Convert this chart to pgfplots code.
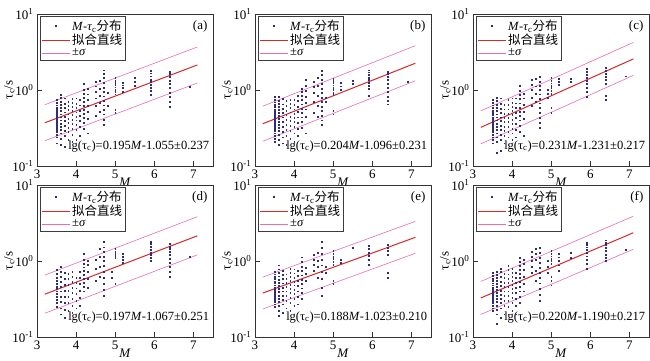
\documentclass[border=0pt]{standalone}
\usepackage{fontspec}
\setmainfont{Liberation Serif}
\newfontfamily\cjk{Noto Sans CJK SC}
\usepackage{pgfplots}
\pgfplotsset{compat=1.18}
\usepgfplotslibrary{groupplots}
\definecolor{dotc}{RGB}{45,45,120}
\definecolor{fitc}{RGB}{215,40,40}
\definecolor{sigc}{RGB}{232,110,175}
\definecolor{boxc}{RGB}{60,60,60}
\newcommand\legs{\legend{\textit{M}-\textit{τ}\textsubscript{c}{\cjk 分布},{\cjk 拟合直线},±\textit{σ}}}
\newcommand\fs{\fontsize{13}{14}\selectfont}
\pgfplotsset{
  every axis/.append style={
    scale only axis, width=176pt, height=152pt,
    xmin=3, xmax=7.5, ymode=log, ymin=0.1, ymax=10,
    xtick={3,4,5,6,7}, ytick={0.1,1,10},
    yticklabels={10\textsuperscript{-1},10\textsuperscript{0},10\textsuperscript{1}},
    xminorticks=false, yminorticks=false,
    tick align=inside, tick pos=left, major tick length=5pt,
    axis line style={line width=0.8pt, black!80},
    tick style={line width=0.7pt, black!80},
    /pgf/number format/assume math mode=true,
    tick label style={font=\fs},
    label style={font=\fs},
    xlabel={\textit{M}}, ylabel={τ\textsubscript{c}/s},
    xlabel style={yshift=7pt},
    ylabel style={yshift=-9pt},
    legend cell align=left,
    legend image code/.code={\draw[mark repeat=2,mark phase=2] plot coordinates {(0pt,0pt) (14pt,0pt) (28pt,0pt)};},
  },
  every axis legend/.append style={at={(0.015,0.985)}, anchor=north west, draw=boxc, line width=1.1pt, fill=white,
      font=\fontsize{12.5}{13}\selectfont, inner sep=1pt, row sep=-1.5pt,
      /tikz/every even column/.append style={column sep=2pt}},
  dots/.style={only marks, mark=square*, mark size=0.4pt, color=dotc},
  fit/.style={fitc, line width=1pt, no marks},
  sig/.style={sigc, line width=0.6pt, no marks},
}
\newcommand\eqn[1]{\node[anchor=south east, font=\fontsize{12.5}{13}\selectfont, inner sep=1pt] at (rel axis cs:0.985,0.085) {#1};}
\newcommand\plab[1]{\node[anchor=north east, font=\fs, inner sep=1pt] at (rel axis cs:0.975,0.965) {#1};}
\begin{document}
\begin{tikzpicture}
\begin{groupplot}[group style={group size=3 by 2, horizontal sep=42pt, vertical sep=19pt}]
% (a)
\nextgroupplot
\addplot[dots] coordinates {
(3.5,0.20)(3.5,0.24)(3.5,0.26)(3.5,0.28)(3.5,0.30)(3.5,0.32)(3.5,0.34)(3.5,0.36)(3.5,0.38)(3.5,0.40)(3.5,0.42)(3.5,0.44)(3.5,0.46)(3.5,0.49)(3.5,0.52)(3.5,0.55)(3.5,0.59)(3.5,0.63)(3.5,0.68)(3.5,0.74)
(3.6,0.19)(3.6,0.23)(3.6,0.27)(3.6,0.30)(3.6,0.33)(3.6,0.36)(3.6,0.40)(3.6,0.44)(3.6,0.48)(3.6,0.53)(3.6,0.58)(3.6,0.64)(3.6,0.71)(3.6,0.80)(3.6,0.87)
(3.7,0.18)(3.7,0.25)(3.7,0.29)(3.7,0.34)(3.7,0.39)(3.7,0.45)(3.7,0.51)(3.7,0.58)(3.7,0.66)(3.7,0.78)
(3.8,0.22)(3.8,0.28)(3.8,0.32)(3.8,0.37)(3.8,0.42)(3.8,0.48)(3.8,0.55)(3.8,0.62)(3.8,0.70)
(3.9,0.21)(3.9,0.26)(3.9,0.31)(3.9,0.36)(3.9,0.41)(3.9,0.47)(3.9,0.53)(3.9,0.60)(3.9,0.68)(3.9,0.77)
(4.0,0.22)(4.0,0.30)(4.0,0.35)(4.0,0.40)(4.0,0.45)(4.0,0.51)(4.0,0.58)(4.0,0.66)(4.0,0.78)
(4.1,0.25)(4.1,0.33)(4.1,0.39)(4.1,0.46)(4.1,0.54)(4.1,0.63)(4.1,0.74)
(4.2,0.31)(4.2,0.37)(4.2,0.43)(4.2,0.49)(4.2,0.55)(4.2,0.62)(4.2,0.70)(4.2,0.79)(4.2,0.90)(4.2,1.02)(4.2,1.20)
(4.3,0.27)(4.3,0.42)(4.3,0.52)(4.3,0.62)(4.3,0.74)(4.3,0.88)(4.3,1.05)
(4.5,0.46)(4.5,0.62)(4.5,0.78)(4.5,0.95)(4.5,1.12)(4.5,1.28)
(4.6,0.52)(4.6,0.68)(4.6,0.85)(4.6,1.05)(4.6,1.32)
(4.7,0.35)(4.7,0.41)(4.7,0.48)(4.7,0.55)(4.7,0.63)(4.7,0.72)(4.7,0.83)(4.7,0.95)(4.7,1.08)(4.7,1.24)(4.7,1.45)(4.7,1.62)(4.7,1.82)
(4.8,0.62)(4.8,0.92)
(5.0,0.50)(5.0,0.55)(5.0,0.88)(5.0,0.95)(5.0,1.02)(5.0,1.09)(5.0,1.17)(5.0,1.25)(5.0,1.34)(5.0,1.45)
(5.2,0.96)(5.2,1.06)(5.2,1.16)(5.2,1.26)
(5.5,1.15)(5.5,1.30)(5.5,1.45)
(5.9,0.87)(5.9,0.98)(5.9,1.08)(5.9,1.18)(5.9,1.28)(5.9,1.38)(5.9,1.52)(5.9,1.66)(5.9,1.80)
(6.4,0.60)(6.4,0.70)(6.4,0.81)(6.4,0.93)(6.4,1.06)(6.4,1.20)(6.4,1.34)(6.4,1.48)(6.4,1.62)(6.4,1.75)
(6.9,1.10)};
\addplot[fit] coordinates {(3.2,0.3707)(7.1,2.135)};
\addplot[sig] coordinates {(3.2,0.6397)(7.1,3.686)};
\addplot[sig, forget plot] coordinates {(3.2,0.2148)(7.1,1.237)};
\legs
\plab{(a)}
\eqn{lg(τ\textsubscript{c})=0.195\textit{M}-1.055±0.237}
% (b)
\nextgroupplot
\addplot[dots] coordinates {
(3.5,0.21)(3.5,0.23)(3.5,0.25)(3.5,0.27)(3.5,0.29)(3.5,0.31)(3.5,0.33)(3.5,0.35)(3.5,0.37)(3.5,0.39)(3.5,0.41)(3.5,0.43)(3.5,0.45)(3.5,0.47)(3.5,0.50)(3.5,0.53)(3.5,0.56)(3.5,0.60)(3.5,0.64)(3.5,0.69)(3.5,0.75)(3.5,0.82)
(3.6,0.19)(3.6,0.22)(3.6,0.26)(3.6,0.29)(3.6,0.32)(3.6,0.35)(3.6,0.38)(3.6,0.42)(3.6,0.46)(3.6,0.50)(3.6,0.55)(3.6,0.60)(3.6,0.66)(3.6,0.73)(3.6,0.82)
(3.7,0.20)(3.7,0.24)(3.7,0.28)(3.7,0.33)(3.7,0.38)(3.7,0.44)(3.7,0.50)(3.7,0.57)(3.7,0.65)(3.7,0.76)
(3.8,0.19)(3.8,0.25)(3.8,0.30)(3.8,0.35)(3.8,0.41)(3.8,0.47)(3.8,0.54)(3.8,0.62)(3.8,0.72)
(3.9,0.23)(3.9,0.29)(3.9,0.34)(3.9,0.39)(3.9,0.45)(3.9,0.51)(3.9,0.58)(3.9,0.66)(3.9,0.75)
(4.0,0.21)(4.0,0.27)(4.0,0.33)(4.0,0.38)(4.0,0.43)(4.0,0.49)(4.0,0.56)(4.0,0.64)(4.0,0.74)
(4.1,0.25)(4.1,0.31)(4.1,0.37)(4.1,0.44)(4.1,0.52)(4.1,0.61)(4.1,0.72)(4.1,0.84)
(4.2,0.32)(4.2,0.38)(4.2,0.44)(4.2,0.50)(4.2,0.57)(4.2,0.65)(4.2,0.74)(4.2,0.84)(4.2,0.95)(4.2,1.05)
(4.3,0.27)(4.3,0.45)(4.3,0.56)(4.3,0.68)(4.3,0.82)(4.3,0.98)(4.3,1.15)(4.3,1.38)
(4.5,0.50)(4.5,0.70)(4.5,0.92)(4.5,1.10)(4.5,1.30)
(4.6,0.45)(4.6,0.62)(4.6,0.85)(4.6,1.15)(4.6,1.45)
(4.7,0.35)(4.7,0.40)(4.7,0.46)(4.7,0.53)(4.7,0.61)(4.7,0.70)(4.7,0.80)(4.7,0.92)(4.7,1.05)(4.7,1.20)(4.7,1.38)(4.7,1.58)(4.7,1.80)
(4.8,0.70)(4.8,0.80)
(5.0,0.48)(5.0,0.53)(5.0,0.86)(5.0,0.93)(5.0,1.00)(5.0,1.08)(5.0,1.16)(5.0,1.24)(5.0,1.32)(5.0,1.42)
(5.2,1.00)(5.2,1.12)(5.2,1.25)
(5.5,1.20)(5.5,1.32)
(5.9,0.85)(5.9,1.05)(5.9,1.15)(5.9,1.25)(5.9,1.35)(5.9,1.45)(5.9,1.58)(5.9,1.72)(5.9,1.82)
(6.4,0.65)(6.4,0.72)(6.4,0.82)(6.4,0.95)(6.4,1.08)(6.4,1.22)(6.4,1.36)(6.4,1.50)(6.4,1.62)(6.4,1.74)
(6.9,1.30)};
\addplot[fit] coordinates {(3.2,0.3604)(7.1,2.251)};
\addplot[sig] coordinates {(3.2,0.6135)(7.1,3.832)};
\addplot[sig, forget plot] coordinates {(3.2,0.2117)(7.1,1.3224)};
\legs
\plab{(b)}
\eqn{lg(τ\textsubscript{c})=0.204\textit{M}-1.096±0.231}
% (c)
\nextgroupplot
\addplot[dots] coordinates {
(3.5,0.20)(3.5,0.22)(3.5,0.24)(3.5,0.26)(3.5,0.28)(3.5,0.30)(3.5,0.32)(3.5,0.34)(3.5,0.36)(3.5,0.38)(3.5,0.40)(3.5,0.42)(3.5,0.44)(3.5,0.47)(3.5,0.50)(3.5,0.54)(3.5,0.58)(3.5,0.63)(3.5,0.68)(3.5,0.74)
(3.6,0.15)(3.6,0.21)(3.6,0.24)(3.6,0.27)(3.6,0.30)(3.6,0.33)(3.6,0.36)(3.6,0.40)(3.6,0.44)(3.6,0.48)(3.6,0.53)(3.6,0.58)(3.6,0.64)(3.6,0.72)(3.6,0.80)
(3.7,0.16)(3.7,0.22)(3.7,0.26)(3.7,0.30)(3.7,0.34)(3.7,0.39)(3.7,0.44)(3.7,0.50)(3.7,0.57)(3.7,0.66)(3.7,0.78)
(3.8,0.20)(3.8,0.25)(3.8,0.29)(3.8,0.33)(3.8,0.38)(3.8,0.43)(3.8,0.49)(3.8,0.56)(3.8,0.64)
(3.9,0.19)(3.9,0.24)(3.9,0.28)(3.9,0.33)(3.9,0.38)(3.9,0.43)(3.9,0.49)(3.9,0.56)(3.9,0.64)(3.9,0.74)
(4.0,0.22)(4.0,0.27)(4.0,0.31)(4.0,0.36)(4.0,0.41)(4.0,0.47)(4.0,0.53)(4.0,0.60)(4.0,0.68)(4.0,0.78)
(4.1,0.24)(4.1,0.30)(4.1,0.36)(4.1,0.43)(4.1,0.50)(4.1,0.58)(4.1,0.67)(4.1,0.78)
(4.2,0.28)(4.2,0.34)(4.2,0.40)(4.2,0.46)(4.2,0.52)(4.2,0.59)(4.2,0.67)(4.2,0.76)(4.2,0.86)(4.2,0.98)(4.2,1.15)
(4.3,0.25)(4.3,0.42)(4.3,0.52)(4.3,0.64)(4.3,0.78)(4.3,0.90)
(4.5,0.62)(4.5,0.80)(4.5,1.00)(4.5,1.18)(4.5,1.35)
(4.6,0.70)(4.6,0.90)(4.6,1.12)(4.6,1.40)
(4.7,0.32)(4.7,0.37)(4.7,0.43)(4.7,0.50)(4.7,0.58)(4.7,0.67)(4.7,0.77)(4.7,0.88)(4.7,1.00)(4.7,1.14)(4.7,1.30)(4.7,1.50)
(4.9,0.80)(4.9,0.90)(4.9,1.00)
(5.0,0.50)(5.0,0.58)(5.0,0.90)(5.0,0.98)(5.0,1.06)(5.0,1.14)(5.0,1.23)(5.0,1.33)(5.0,1.44)
(5.2,1.18)(5.2,1.30)(5.2,1.42)
(5.5,1.30)(5.5,1.42)
(5.9,0.82)(5.9,0.95)(5.9,1.08)(5.9,1.20)(5.9,1.32)(5.9,1.45)(5.9,1.60)(5.9,1.75)(5.9,1.90)
(6.4,0.75)(6.4,0.85)(6.4,1.20)(6.4,1.35)(6.4,1.50)(6.4,1.65)(6.4,1.80)(6.4,1.95)
(6.9,1.52)};
\addplot[fit] coordinates {(3.2,0.3223)(7.1,2.566)};
\addplot[sig] coordinates {(3.2,0.5312)(7.1,4.228)};
\addplot[sig, forget plot] coordinates {(3.2,0.1955)(7.1,1.5562)};
\legs
\plab{(c)}
\eqn{lg(τ\textsubscript{c})=0.231\textit{M}-1.231±0.217}
% (d)
\nextgroupplot
\addplot[dots] coordinates {
(3.5,0.25)(3.5,0.28)(3.5,0.31)(3.5,0.34)(3.5,0.37)(3.5,0.40)(3.5,0.43)(3.5,0.46)(3.5,0.50)(3.5,0.55)(3.5,0.61)(3.5,0.68)(3.5,0.76)
(3.6,0.20)(3.6,0.24)(3.6,0.29)(3.6,0.34)(3.6,0.40)(3.6,0.46)(3.6,0.53)(3.6,0.62)(3.6,0.72)(3.6,0.85)
(3.7,0.18)(3.7,0.23)(3.7,0.28)(3.7,0.34)(3.7,0.41)(3.7,0.49)(3.7,0.58)(3.7,0.70)
(3.8,0.22)(3.8,0.28)(3.8,0.34)(3.8,0.41)(3.8,0.49)(3.8,0.58)(3.8,0.68)
(3.9,0.21)(3.9,0.26)(3.9,0.32)(3.9,0.38)(3.9,0.45)(3.9,0.53)(3.9,0.62)(3.9,0.73)
(4.0,0.24)(4.0,0.30)(4.0,0.37)(4.0,0.44)(4.0,0.52)(4.0,0.61)
(4.1,0.26)(4.1,0.33)(4.1,0.41)(4.1,0.50)(4.1,0.60)(4.1,0.72)
(4.2,0.40)(4.2,0.46)(4.2,0.52)(4.2,0.59)(4.2,0.66)(4.2,0.74)(4.2,0.83)(4.2,0.93)(4.2,1.05)(4.2,1.25)
(4.3,0.45)(4.3,0.58)(4.3,0.72)(4.3,0.90)(4.3,1.02)
(4.5,0.55)(4.5,0.80)(4.5,1.05)
(4.6,0.62)(4.6,0.85)(4.6,1.15)(4.6,1.45)
(4.7,0.35)(4.7,0.42)(4.7,0.50)(4.7,0.60)(4.7,0.72)(4.7,0.86)(4.7,1.00)(4.7,1.15)(4.7,1.32)(4.7,1.52)(4.7,1.78)
(4.9,0.60)(4.9,0.72)
(5.0,0.50)(5.0,1.10)(5.0,1.18)(5.0,1.26)(5.0,1.34)(5.0,1.45)
(5.2,0.95)(5.2,1.05)(5.2,1.15)(5.2,1.25)
(5.9,1.00)(5.9,1.10)(5.9,1.20)(5.9,1.30)(5.9,1.42)(5.9,1.55)(5.9,1.68)(5.9,1.80)
(6.4,0.62)(6.4,0.72)(6.4,0.84)(6.4,0.96)(6.4,1.08)(6.4,1.20)(6.4,1.32)(6.4,1.44)(6.4,1.56)(6.4,1.68)
(6.9,1.15)};
\addplot[fit] coordinates {(3.2,0.3659)(7.1,2.146)};
\addplot[sig] coordinates {(3.2,0.6523)(7.1,3.825)};
\addplot[sig, forget plot] coordinates {(3.2,0.2053)(7.1,1.2041)};
\legs
\plab{(d)}
\eqn{lg(τ\textsubscript{c})=0.197\textit{M}-1.067±0.251}
% (e)
\nextgroupplot
\addplot[dots] coordinates {
(3.5,0.25)(3.5,0.27)(3.5,0.29)(3.5,0.31)(3.5,0.33)(3.5,0.35)(3.5,0.37)(3.5,0.39)(3.5,0.41)(3.5,0.43)(3.5,0.45)(3.5,0.48)(3.5,0.51)(3.5,0.54)(3.5,0.58)(3.5,0.62)(3.5,0.67)(3.5,0.72)
(3.6,0.19)(3.6,0.22)(3.6,0.26)(3.6,0.29)(3.6,0.32)(3.6,0.35)(3.6,0.39)(3.6,0.43)(3.6,0.47)(3.6,0.52)(3.6,0.57)(3.6,0.63)(3.6,0.70)(3.6,0.78)(3.6,0.88)
(3.7,0.21)(3.7,0.27)(3.7,0.31)(3.7,0.35)(3.7,0.40)(3.7,0.45)(3.7,0.51)(3.7,0.58)(3.7,0.66)(3.7,0.75)
(3.8,0.24)(3.8,0.30)(3.8,0.35)(3.8,0.40)(3.8,0.46)(3.8,0.52)(3.8,0.59)(3.8,0.67)
(3.9,0.22)(3.9,0.28)(3.9,0.33)(3.9,0.38)(3.9,0.43)(3.9,0.49)(3.9,0.55)(3.9,0.62)(3.9,0.70)(3.9,0.80)
(4.0,0.20)(4.0,0.26)(4.0,0.32)(4.0,0.37)(4.0,0.42)(4.0,0.48)(4.0,0.54)(4.0,0.61)(4.0,0.69)(4.0,0.78)
(4.1,0.27)(4.1,0.34)(4.1,0.40)(4.1,0.47)(4.1,0.55)(4.1,0.64)(4.1,0.75)
(4.2,0.32)(4.2,0.38)(4.2,0.44)(4.2,0.50)(4.2,0.57)(4.2,0.65)(4.2,0.74)(4.2,0.85)(4.2,0.98)(4.2,1.12)
(4.3,0.55)(4.3,0.68)(4.3,0.82)
(4.5,0.75)(4.5,0.90)(4.5,1.05)(4.5,1.20)
(4.6,0.60)(4.6,0.85)(4.6,1.00)(4.6,1.30)
(4.7,0.35)(4.7,0.45)(4.7,0.58)(4.7,0.72)(4.7,0.88)(4.7,1.05)(4.7,1.25)(4.7,1.50)(4.7,1.80)
(4.8,0.70)(4.8,0.85)
(5.0,0.50)(5.0,0.55)(5.0,0.90)(5.0,0.98)(5.0,1.06)(5.0,1.14)(5.0,1.24)(5.0,1.35)
(5.2,0.95)(5.2,1.05)
(5.5,1.50)
(5.9,0.90)(5.9,1.05)(5.9,1.18)(5.9,1.30)(5.9,1.45)(5.9,1.60)
(6.4,0.60)(6.4,0.70)(6.4,1.20)(6.4,1.35)(6.4,1.50)(6.4,1.62)};
\addplot[fit] coordinates {(3.2,0.3790)(7.1,2.050)};
\addplot[sig] coordinates {(3.2,0.6144)(7.1,3.325)};
\addplot[sig, forget plot] coordinates {(3.2,0.2336)(7.1,1.2642)};
\legs
\plab{(e)}
\eqn{lg(τ\textsubscript{c})=0.188\textit{M}-1.023±0.210}
% (f)
\nextgroupplot
\addplot[dots] coordinates {
(3.5,0.22)(3.5,0.24)(3.5,0.26)(3.5,0.28)(3.5,0.30)(3.5,0.32)(3.5,0.34)(3.5,0.36)(3.5,0.38)(3.5,0.40)(3.5,0.42)(3.5,0.45)(3.5,0.48)(3.5,0.51)(3.5,0.55)(3.5,0.59)(3.5,0.64)(3.5,0.70)
(3.6,0.15)(3.6,0.20)(3.6,0.23)(3.6,0.26)(3.6,0.29)(3.6,0.32)(3.6,0.35)(3.6,0.38)(3.6,0.42)(3.6,0.46)(3.6,0.50)(3.6,0.55)(3.6,0.60)(3.6,0.66)(3.6,0.73)
(3.7,0.18)(3.7,0.24)(3.7,0.28)(3.7,0.32)(3.7,0.36)(3.7,0.41)(3.7,0.47)(3.7,0.54)(3.7,0.62)(3.7,0.72)(3.7,0.80)
(3.8,0.20)(3.8,0.26)(3.8,0.30)(3.8,0.35)(3.8,0.40)(3.8,0.46)(3.8,0.52)(3.8,0.60)(3.8,0.68)
(3.9,0.20)(3.9,0.25)(3.9,0.30)(3.9,0.35)(3.9,0.40)(3.9,0.46)(3.9,0.52)(3.9,0.59)(3.9,0.67)(3.9,0.76)(3.9,0.86)
(4.0,0.22)(4.0,0.28)(4.0,0.33)(4.0,0.38)(4.0,0.43)(4.0,0.49)(4.0,0.55)(4.0,0.62)(4.0,0.70)(4.0,0.80)
(4.1,0.20)(4.1,0.26)(4.1,0.32)(4.1,0.38)(4.1,0.45)(4.1,0.52)(4.1,0.60)(4.1,0.70)
(4.2,0.28)(4.2,0.34)(4.2,0.40)(4.2,0.46)(4.2,0.53)(4.2,0.60)(4.2,0.68)(4.2,0.77)(4.2,0.87)(4.2,0.98)(4.2,1.10)
(4.3,0.40)(4.3,0.50)(4.3,0.62)(4.3,0.76)(4.3,0.92)(4.3,1.05)
(4.5,0.70)(4.5,0.85)(4.5,1.00)(4.5,1.15)(4.5,1.32)
(4.6,0.55)(4.6,0.75)(4.6,1.05)(4.6,1.25)(4.6,1.45)
(4.7,0.30)(4.7,0.36)(4.7,0.43)(4.7,0.51)(4.7,0.60)(4.7,0.70)(4.7,0.82)(4.7,0.95)(4.7,1.10)(4.7,1.28)(4.7,1.50)
(4.9,0.70)(4.9,0.85)(4.9,1.00)
(5.0,0.48)(5.0,0.55)(5.0,0.62)(5.0,0.92)(5.0,1.00)(5.0,1.08)(5.0,1.16)(5.0,1.25)(5.0,1.35)
(5.2,0.75)(5.2,0.88)(5.2,1.00)(5.2,1.12)(5.2,1.25)
(5.5,1.10)(5.5,1.30)
(5.9,0.80)(5.9,0.92)(5.9,1.04)(5.9,1.16)(5.9,1.28)(5.9,1.40)(5.9,1.52)(5.9,1.65)(5.9,1.75)
(6.4,1.00)(6.4,1.10)(6.4,1.22)(6.4,1.35)(6.4,1.48)(6.4,1.62)(6.4,1.75)(6.4,1.88)
(6.9,1.42)};
\addplot[fit] coordinates {(3.2,0.3266)(7.1,2.355)};
\addplot[sig] coordinates {(3.2,0.5383)(7.1,3.882)};
\addplot[sig, forget plot] coordinates {(3.2,0.1982)(7.1,1.4289)};
\legs
\plab{(f)}
\eqn{lg(τ\textsubscript{c})=0.220\textit{M}-1.190±0.217}
\end{groupplot}
\pgfresetboundingbox
\path ([xshift=-37pt,yshift=14pt]group c1r1.north west) rectangle ([xshift=613pt,yshift=-346pt]group c1r1.north west);
\end{tikzpicture}
\end{document}
